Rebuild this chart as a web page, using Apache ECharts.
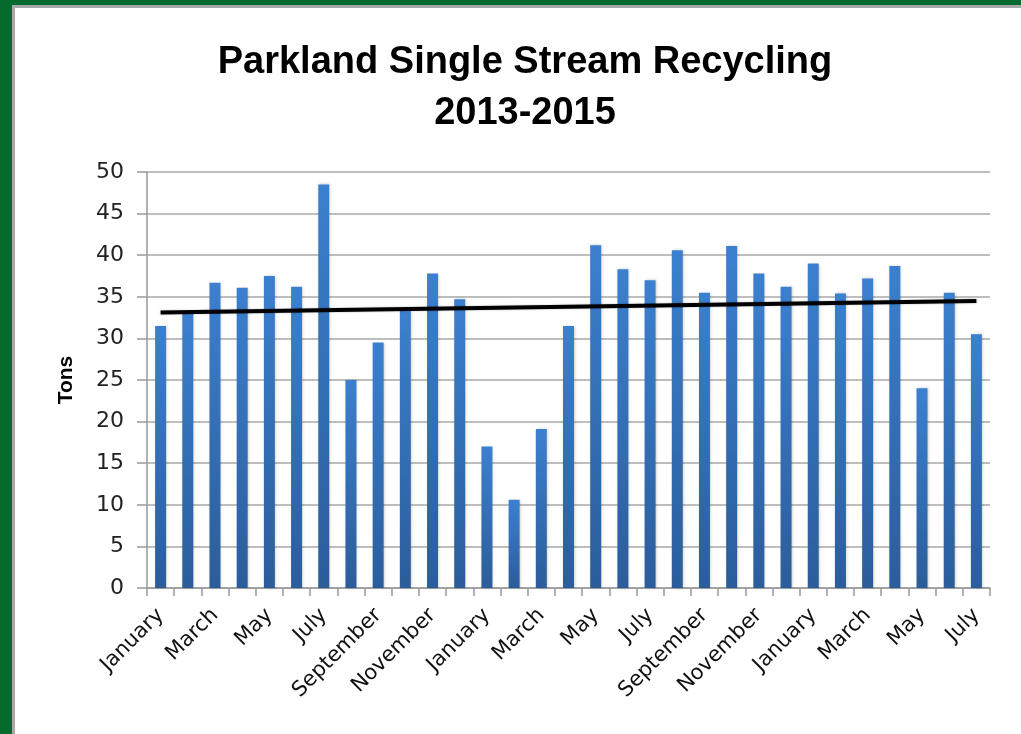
<!DOCTYPE html>
<html>
<head>
<meta charset="utf-8">
<script src="https://cdn.jsdelivr.net/npm/echarts@6/dist/echarts.min.js"></script>
<style>
  html, body { margin: 0; padding: 0; background: #ffffff; }
  #chart { position: absolute; left: 0; top: 0; width: 1021px; height: 734px; }
  #gTop { position: absolute; left: 0; top: 0; width: 1021px; height: 5px; background: #056a2d; }
  #gLeft { position: absolute; left: 0; top: 0; width: 12px; height: 734px; background: #056a2d; }
  #sTop { position: absolute; left: 12px; top: 5px; width: 1009px; height: 3px; background: #a9a9a9; }
  #sLeft { position: absolute; left: 12px; top: 5px; width: 3px; height: 729px; background: #a9a9a9; }
</style>
</head>
<body>
<div id="chart"></div>
<div id="gTop"></div><div id="gLeft"></div><div id="sTop"></div><div id="sLeft"></div>
<script>
const titleLines = ['Parkland Single Stream Recycling', '2013-2015'];
const yAxisName = 'Tons';
const months = ['January','February','March','April','May','June','July','August','September','October','November','December',
  'January','February','March','April','May','June','July','August','September','October','November','December',
  'January','February','March','April','May','June','July'];
const tons = [31.5, 33.0, 36.7, 36.1, 37.5, 36.2, 48.5, 25.0, 29.5, 33.3, 37.8, 34.7,
  17.0, 10.6, 19.1, 31.5, 41.2, 38.3, 37.0, 40.6, 35.5, 41.1, 37.8, 36.2,
  39.0, 35.4, 37.2, 38.7, 24.0, 35.5, 30.5];
const trendStart = 33.1;
const trendEnd = 34.5;
const yTicks = [0, 5, 10, 15, 20, 25, 30, 35, 40, 45, 50];

const chart = echarts.init(document.getElementById('chart'), null, { renderer: 'canvas' });
chart.setOption({
  backgroundColor: 'transparent',
  animation: false,
  title: {
    text: titleLines.join('\n'),
    left: 520, top: 32, textAlign: 'center',
    textStyle: { fontFamily: 'Liberation Sans', fontWeight: 'bold', fontSize: 38, lineHeight: 51, color: '#000' }
  },
  grid: { left: 147, right: 31, top: 172, bottom: 146 },
  xAxis: {
    type: 'category',
    data: months,
    boundaryGap: true,
    axisLine: { lineStyle: { color: '#999999', width: 1.5 } },
    axisTick: { show: true, interval: 0, length: 8, lineStyle: { color: '#999999', width: 1.5 } },
    axisLabel: { interval: 1, rotate: 45, margin: 24, fontFamily: 'DejaVu Sans', fontSize: 21, color: '#111111' }
  },
  yAxis: {
    type: 'value',
    min: yTicks[0], max: yTicks[yTicks.length - 1], interval: 5,
    name: yAxisName, nameLocation: 'middle', nameRotate: 90, nameGap: 70,
    nameTextStyle: { fontFamily: 'Liberation Sans', fontWeight: 'bold', fontSize: 21, color: '#000' },
    axisLine: { show: true, lineStyle: { color: '#999999', width: 1.5 } },
    axisTick: { show: true, length: 10, lineStyle: { color: '#999999', width: 1.5 } },
    axisLabel: { margin: 23, fontFamily: 'DejaVu Sans', fontSize: 22, color: '#222222' },
    splitLine: { show: true, lineStyle: { color: '#a8a8a8', width: 1.5 } }
  },
  series: [{
    type: 'bar',
    data: tons,
    barWidth: 11,
    itemStyle: {
      color: new echarts.graphic.LinearGradient(0, 0, 0, 1, [
        { offset: 0, color: '#3b80cf' },
        { offset: 1, color: '#2b5d9b' }
      ]),
      shadowColor: 'rgba(0,0,0,0.2)', shadowBlur: 3, shadowOffsetX: 1, shadowOffsetY: 0
    },
    markLine: {
      silent: true,
      symbol: ['none', 'none'],
      label: { show: false },
      lineStyle: { color: '#000000', width: 4, type: 'solid', shadowColor: 'rgba(0,0,0,0.3)', shadowBlur: 2 },
      data: [[{ coord: [0, trendStart] }, { coord: [months.length - 1, trendEnd] }]]
    }
  }]
});
</script>
</body>
</html>
